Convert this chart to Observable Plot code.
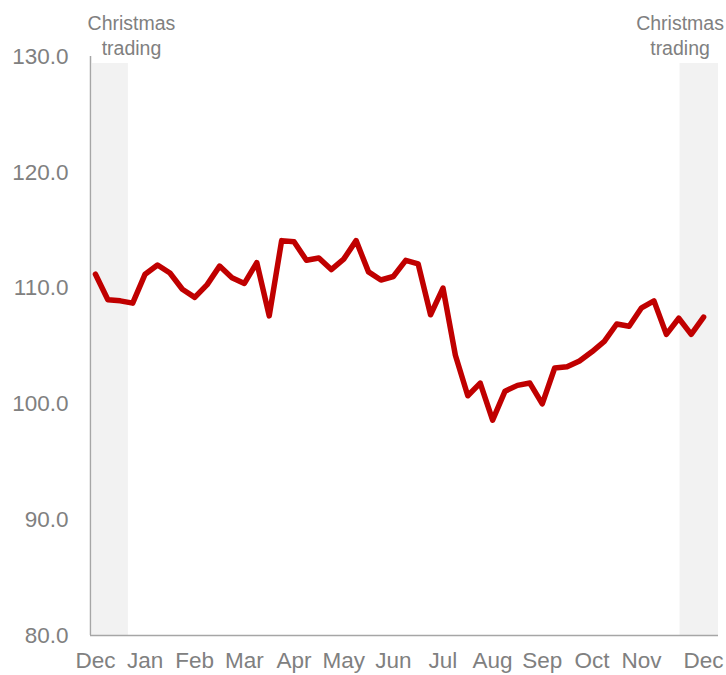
<!DOCTYPE html>
<html>
<head>
<meta charset="utf-8">
<script src="https://cdn.jsdelivr.net/npm/d3@7"></script>
<script src="https://cdn.jsdelivr.net/npm/@observablehq/plot@0.6"></script>
<style>
  html, body { margin: 0; padding: 0; background: #fff; }
  #chart svg { display: block; }
</style>
</head>
<body>
<div id="chart"></div>
<script>
// Weekly index values (Dec to Dec)
const values = [
  111.2, 109.0, 108.9, 108.7, 111.2, 112.0, 111.3, 109.9, 109.2, 110.3,
  111.9, 110.9, 110.4, 112.2, 107.6, 114.1, 114.0, 112.4, 112.6, 111.6,
  112.5, 114.1, 111.4, 110.7, 111.0, 112.4, 112.1, 107.7, 110.0, 104.2,
  100.7, 101.8, 98.6, 101.1, 101.6, 101.8, 100.0, 103.1, 103.2, 103.7,
  104.5, 105.4, 106.9, 106.7, 108.3, 108.9, 106.0, 107.4, 106.0, 107.5
];
const monthLabels = ["Dec","Jan","Feb","Mar","Apr","May","Jun","Jul","Aug","Sep","Oct","Nov","Dec"];
const monthTickWeeks = [0, 4, 8, 12, 16, 20, 24, 28, 32, 36, 40, 44, 49];
const yTicks = [80, 90, 100, 110, 120, 130];
// Christmas trading periods (in week units)
const christmasStart = [-0.25, 47.1];
const christmasEnd = [2.65, 50.2];
const christmasLabelWeek = [2.9, 47.1];
const christmasLabel = "Christmas\ntrading";

const data = values.map((v, i) => ({week: i, value: v}));
const bands = christmasStart.map((s, i) => ({x1: s, x2: christmasEnd[i]}));
const labels = christmasLabelWeek.map(w => ({x: w, text: christmasLabel}));
const tickLabel = new Map(monthTickWeeks.map((w, i) => [w, monthLabels[i]]));

const grey = "#808080";

const chart = Plot.plot({
  width: 726,
  height: 675,
  marginLeft: 90,
  marginRight: 8,
  marginTop: 56,
  marginBottom: 40,
  style: {fontFamily: "'Liberation Sans', Arial, sans-serif", fontSize: "22.5px", color: grey, background: "#fff"},
  x: {domain: [-0.4, 50.2], ticks: monthTickWeeks, tickFormat: d => tickLabel.get(d), tickSize: 0, tickPadding: 17, label: null},
  y: {domain: [80, 130], ticks: yTicks, tickFormat: d3.format(".1f"), tickSize: 0, tickPadding: 22, label: null},
  marks: [
    Plot.rect(bands, {x1: "x1", x2: "x2", y1: 80, y2: 129.4, fill: "#f2f2f2"}),
    Plot.ruleX([-0.4], {y1: 80, y2: 130, stroke: "#a6a6a6", strokeWidth: 1.5}),
    Plot.ruleY([80], {stroke: "#a6a6a6", strokeWidth: 1.5}),
    Plot.line(data, {x: "week", y: "value", stroke: "#c00000", strokeWidth: 5.5, strokeLinejoin: "round", strokeLinecap: "round"}),
    Plot.text(labels, {x: "x", y: () => 130, text: "text", dy: -22, lineAnchor: "middle", lineHeight: 1.26, fontSize: 19.5, fill: grey})
  ]
});
document.getElementById("chart").appendChild(chart);
</script>
</body>
</html>
